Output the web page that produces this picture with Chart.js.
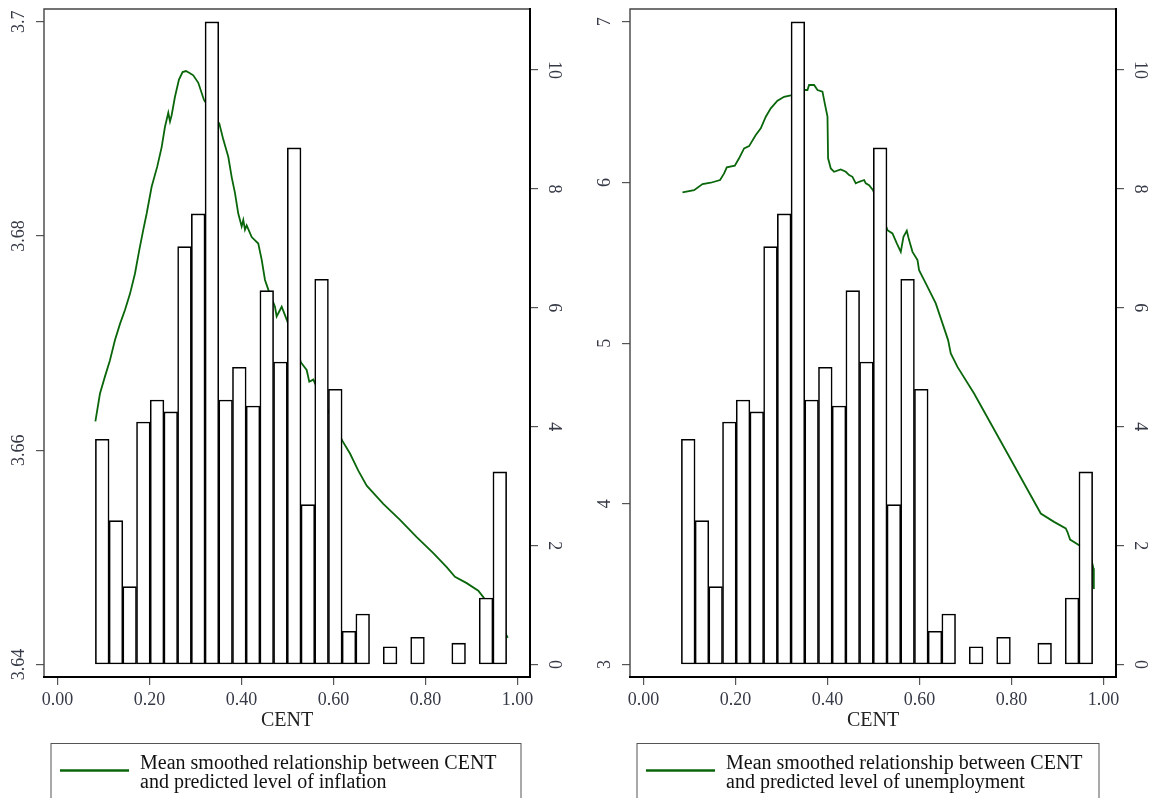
<!DOCTYPE html>
<html>
<head>
<meta charset="utf-8">
<script src="https://cdn.jsdelivr.net/npm/chart.js@4.4.0/dist/chart.umd.min.js"></script>
<style>
  body { margin: 0; background: #fff; width: 1151px; height: 798px; overflow: hidden; position: relative; }
  canvas { position: absolute; top: 0; }
</style>
</head>
<body>
<canvas id="inflation-chart" width="565" height="798" style="left:0"></canvas>
<canvas id="unemployment-chart" width="565" height="798" style="left:586px"></canvas>
<script>
// --- dados do histograma (percentual de observações por faixa de CENT) ---
const binCenters = [0.0973, 0.1271, 0.1569, 0.1867, 0.2165, 0.2463, 0.2761, 0.3059, 0.3357, 0.3655,
  0.3953, 0.4251, 0.4549, 0.4847, 0.5145, 0.5443, 0.5741, 0.6039, 0.6337, 0.6635,
  0.7231, 0.7827, 0.8721, 0.9317, 0.9615];
const centPercent = [3.79, 2.42, 1.31, 4.08, 4.45, 4.25, 7.03, 7.58, 10.81, 4.45,
  5.00, 4.35, 6.29, 5.09, 8.69, 2.69, 6.48, 4.63, 0.56, 0.85,
  0.30, 0.46, 0.36, 1.12, 3.24];

// --- curva suavizada: inflação prevista ---
const inflationCent = [0.0824, 0.0924, 0.1033, 0.1141, 0.1250, 0.1359, 0.1467, 0.1576, 0.1685, 0.1779,
  0.1866, 0.1939, 0.2047, 0.2170, 0.2265, 0.2337, 0.2409, 0.2446, 0.2483, 0.2554,
  0.2641, 0.2720, 0.2793, 0.2880, 0.2952, 0.3061, 0.3185, 0.3518, 0.3605, 0.3713,
  0.3787, 0.3859, 0.3930, 0.4004, 0.4039, 0.4076, 0.4113, 0.4222, 0.4365, 0.4439,
  0.4511, 0.4583, 0.4728, 0.4765, 0.4874, 0.4983, 0.5293, 0.5417, 0.5474, 0.5561,
  0.6191, 0.6359, 0.6539, 0.6722, 0.7083, 0.7446, 0.7809, 0.8170, 0.8461, 0.8641,
  0.8896, 0.9148, 0.9257, 0.9500, 0.9790];
const inflationPred = [3.6627, 3.6653, 3.6669, 3.6684, 3.6703, 3.6718, 3.6731, 3.6746, 3.6765, 3.6787,
  3.6806, 3.6821, 3.6846, 3.6865, 3.6883, 3.6902, 3.6915, 3.6907, 3.6913, 3.6930,
  3.6946, 3.6953, 3.6954, 3.6952, 3.6950, 3.6943, 3.6927, 3.6905, 3.6890, 3.6874,
  3.6855, 3.6840, 3.6821, 3.6809, 3.6815, 3.6806, 3.6810, 3.6799, 3.6793, 3.6778,
  3.6759, 3.6750, 3.6734, 3.6725, 3.6734, 3.6722, 3.6682, 3.6675, 3.6664, 3.6666,
  3.6609, 3.6597, 3.6581, 3.6567, 3.6550, 3.6535, 3.6519, 3.6504, 3.6491, 3.6482,
  3.6476, 3.6469, 3.6463, 3.6447, 3.6425];

// --- curva suavizada: desemprego previsto ---
const unemploymentCent = [0.0848, 0.1100, 0.1283, 0.1463, 0.1665, 0.1753, 0.1811, 0.1985, 0.2078, 0.2187,
  0.2296, 0.2441, 0.2550, 0.2659, 0.2767, 0.2913, 0.3057, 0.3202, 0.3507, 0.3565,
  0.3600, 0.3709, 0.3783, 0.3891, 0.3941, 0.4000, 0.4013, 0.4072, 0.4143, 0.4289,
  0.4398, 0.4470, 0.4543, 0.4615, 0.4687, 0.4796, 0.4833, 0.4904, 0.4991, 0.5304,
  0.5413, 0.5507, 0.5593, 0.5652, 0.5724, 0.5774, 0.5848, 0.5957, 0.5991, 0.6137,
  0.6354, 0.6500, 0.6622, 0.6680, 0.6826, 0.7187, 0.7550, 0.7913, 0.8274, 0.8637,
  0.8926, 0.9180, 0.9217, 0.9274, 0.9470, 0.9600, 0.9740, 0.9780, 0.9790];
const unemploymentPred = [5.938, 5.952, 5.990, 5.998, 6.015, 6.056, 6.094, 6.104, 6.150, 6.212,
  6.226, 6.295, 6.336, 6.409, 6.461, 6.508, 6.533, 6.542, 6.575, 6.575,
  6.606, 6.606, 6.575, 6.565, 6.492, 6.409, 6.150, 6.087, 6.066, 6.081,
  6.066, 6.046, 6.035, 5.994, 6.004, 6.015, 5.994, 5.983, 5.952, 5.703,
  5.683, 5.621, 5.568, 5.662, 5.699, 5.641, 5.568, 5.517, 5.454, 5.372,
  5.247, 5.123, 5.019, 4.936, 4.852, 4.687, 4.500, 4.313, 4.127, 3.940,
  3.888, 3.847, 3.825, 3.778, 3.743, 3.730, 3.650, 3.600, 3.470];

// --- rótulos dos eixos ---
const xTicks = [0, 0.2, 0.4, 0.6, 0.8, 1];
const xTickLabels = ['0.00', '0.20', '0.40', '0.60', '0.80', '1.00'];
const percentTicks = [0, 2, 4, 6, 8, 10];
const percentTickLabels = ['0', '2', '4', '6', '8', '10'];
const inflationTicks = [3.64, 3.66, 3.68, 3.7];
const inflationTickLabels = ['3.64', '3.66', '3.68', '3.7'];
const unemploymentTicks = [3, 4, 5, 6, 7];
const unemploymentTickLabels = ['3', '4', '5', '6', '7'];

const inflationLegend = ['Mean smoothed relationship between CENT', 'and predicted level of inflation'];
const unemploymentLegend = ['Mean smoothed relationship between CENT', 'and predicted level of unemployment'];

const SERIF = '"Liberation Serif", "DejaVu Serif", serif';
const GREEN = '#0a660a';
const LABEL_COLOR = '#363a46';

// Plugin: rótulos verticais, moldura do gráfico e legenda em caixa
const panelDecor = {
  id: 'panelDecor',
  afterDatasetsDraw(chart) {
    const { ctx, chartArea: a } = chart;
    ctx.save();
    ctx.lineCap = 'square';
    ctx.strokeStyle = '#444';
    ctx.lineWidth = 1.4;
    ctx.beginPath();
    ctx.moveTo(a.left, a.bottom); ctx.lineTo(a.left, a.top); ctx.lineTo(a.right, a.top);
    ctx.stroke();
    ctx.strokeStyle = '#000';
    ctx.lineWidth = 2;
    ctx.beginPath();
    ctx.moveTo(a.right, a.top); ctx.lineTo(a.right, a.bottom); ctx.lineTo(a.left, a.bottom);
    ctx.stroke();
    ctx.restore();
  },
  afterDraw(chart, args, opts) {
    const { ctx, chartArea: a } = chart;
    ctx.save();
    ctx.font = '18px ' + SERIF;
    ctx.fillStyle = LABEL_COLOR;
    ctx.textAlign = 'center';
    ctx.textBaseline = 'middle';
    [['yL', opts.leftTicks, opts.leftLabels], ['yR', percentTicks, percentTickLabels]].forEach(([id, vals, labels]) => {
      const s = chart.scales[id];
      vals.forEach((v, i) => {
        const y = s.getPixelForValue(v);
        ctx.save();
        if (id === 'yL') {
          ctx.translate(a.left - 25, y);
          ctx.rotate(-Math.PI / 2);
        } else {
          ctx.translate(a.right + 24, y);
          ctx.rotate(Math.PI / 2);
        }
        ctx.fillText(labels[i], 0, 0);
        ctx.restore();
      });
    });

    // legenda
    const lines = opts.legend;
    ctx.font = '20px ' + SERIF;
    ctx.textAlign = 'left';
    const textX = a.left + 96;
    const boxL = a.left + 7;
    const boxT = 743.5;
    ctx.strokeStyle = '#555';
    ctx.lineWidth = 1;
    ctx.strokeRect(boxL, boxT, opts.legendWidth, 70);
    ctx.strokeStyle = GREEN;
    ctx.lineWidth = 2.5;
    ctx.beginPath();
    ctx.moveTo(a.left + 16, 770.5);
    ctx.lineTo(a.left + 85, 770.5);
    ctx.stroke();
    ctx.fillStyle = '#111';
    ctx.fillText(lines[0], textX, 764);
    ctx.fillText(lines[1], textX, 783);
    ctx.restore();
  }
};

function makePanel(canvasId, cent, pred, leftTicks, leftLabels, leftMin, leftMax, legend, legendWidth) {
  const ctx = document.getElementById(canvasId).getContext('2d');
  const tickGrid = { drawOnChartArea: false, drawTicks: true, tickLength: 8, color: '#555', lineWidth: 1.2, offset: false };
  return new Chart(ctx, {
    type: 'bar',
    data: {
      datasets: [{
        type: 'bar',
        data: binCenters.map((c, i) => ({ x: c, y: centPercent[i] })),
        yAxisID: 'yR',
        backgroundColor: '#fff',
        borderColor: '#000',
        borderWidth: 1.6,
        borderSkipped: false,
        barPercentage: 1,
        categoryPercentage: 1,
        order: 1
      }, {
        type: 'line',
        label: legend.join(' '),
        data: cent.map((c, i) => ({ x: c, y: pred[i] })),
        yAxisID: 'yL',
        borderColor: GREEN,
        borderWidth: 1.8,
        pointRadius: 0,
        tension: 0,
        order: 2
      }]
    },
    options: {
      responsive: false,
      animation: false,
      devicePixelRatio: 1,
      layout: { padding: { top: 9, bottom: 66, left: 0, right: 0 } },
      plugins: {
        legend: { display: false },
        tooltip: { enabled: false },
        panelDecor: { leftTicks: leftTicks, leftLabels: leftLabels, legend: legend, legendWidth: legendWidth }
      },
      scales: {
        x: {
          type: 'linear',
          min: -0.0293,
          max: 1.0272,
          offset: false,
          grid: tickGrid,
          border: { display: false },
          afterBuildTicks: s => { s.ticks = xTicks.map(v => ({ value: v })); },
          afterFit: s => { s.height = 55; },
          ticks: {
            font: { family: SERIF, size: 18 },
            color: LABEL_COLOR,
            padding: 4,
            maxRotation: 0,
            autoSkip: false,
            callback: v => xTickLabels[xTicks.indexOf(v)]
          },
          title: {
            display: true,
            text: 'CENT',
            font: { family: SERIF, size: 20 },
            color: '#222',
            padding: { top: 0, bottom: -1 }
          }
        },
        yL: {
          type: 'linear',
          position: 'left',
          min: leftMin,
          max: leftMax,
          grid: tickGrid,
          border: { display: false },
          afterBuildTicks: s => { s.ticks = leftTicks.map(v => ({ value: v })); },
          afterFit: s => { s.width = 44; },
          ticks: { display: false }
        },
        yR: {
          type: 'linear',
          position: 'right',
          min: -0.209,
          max: 11.027,
          grid: tickGrid,
          border: { display: false },
          afterBuildTicks: s => { s.ticks = percentTicks.map(v => ({ value: v })); },
          afterFit: s => { s.width = 35; },
          ticks: { display: false }
        }
      }
    },
    plugins: [panelDecor]
  });
}

makePanel('inflation-chart', inflationCent, inflationPred, inflationTicks, inflationTickLabels, 3.63884, 3.70119, inflationLegend, 470);
makePanel('unemployment-chart', unemploymentCent, unemploymentPred, unemploymentTicks, unemploymentTickLabels, 2.9228, 7.079, unemploymentLegend, 462);
</script>
</body>
</html>
